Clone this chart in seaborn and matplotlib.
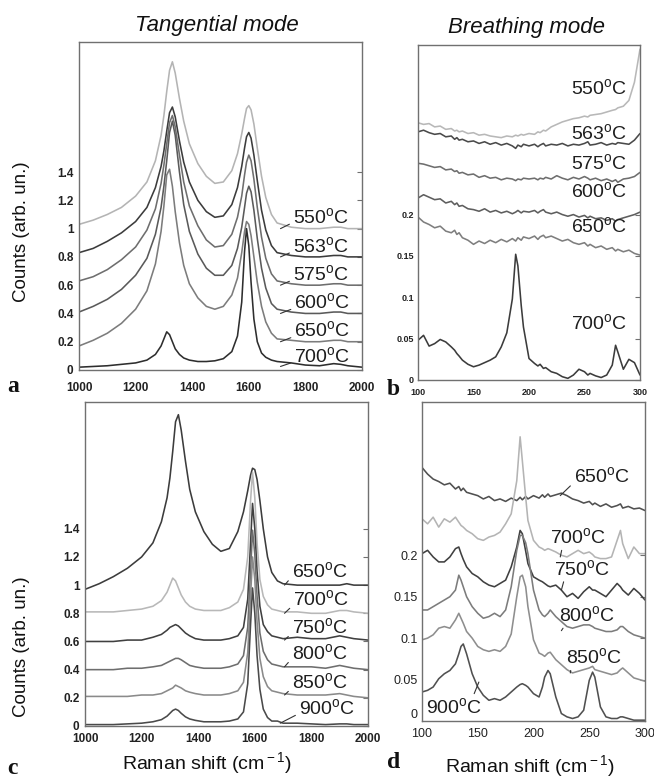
import matplotlib
matplotlib.use("Agg")
import matplotlib.pyplot as plt
import seaborn as sns
import pandas as pd

# ---------------- data ----------------
X_TANG = [1000, 1050, 1100, 1150, 1200, 1240, 1270, 1290, 1300, 1310, 1320, 1330, 1340, 1355, 1370,
          1390, 1420, 1450, 1480, 1510, 1540, 1560, 1575, 1585, 1592, 1600, 1608, 1618, 1630, 1645,
          1660, 1680, 1700, 1750, 1800, 1850, 1900, 1925, 1950, 2000]

# panel a : tangential mode (curves displayed with vertical offset)
a_550 = [1.03, 1.06, 1.10, 1.15, 1.23, 1.33, 1.48, 1.66, 1.80, 1.97, 2.12, 2.18, 2.10, 1.92, 1.76,
         1.60, 1.46, 1.37, 1.32, 1.33, 1.41, 1.53, 1.67, 1.78, 1.85, 1.87, 1.84, 1.74, 1.57, 1.37,
         1.22, 1.10, 1.04, 1.01, 1.00, 1.00, 1.01, 1.01, 1.00, 1.00]
a_563 = [0.83, 0.86, 0.91, 0.97, 1.05, 1.15, 1.29, 1.44, 1.55, 1.69, 1.82, 1.86, 1.79, 1.62, 1.47,
         1.33, 1.20, 1.12, 1.08, 1.09, 1.17, 1.29, 1.44, 1.57, 1.65, 1.68, 1.64, 1.52, 1.34, 1.13,
         0.99, 0.88, 0.83, 0.81, 0.80, 0.80, 0.81, 0.81, 0.80, 0.80]
a_575 = [0.63, 0.66, 0.71, 0.78, 0.87, 0.99, 1.14, 1.32, 1.45, 1.60, 1.75, 1.80, 1.72, 1.52, 1.33,
         1.16, 1.02, 0.92, 0.87, 0.88, 0.96, 1.08, 1.23, 1.38, 1.47, 1.52, 1.48, 1.35, 1.15, 0.94,
         0.79, 0.68, 0.63, 0.61, 0.60, 0.60, 0.61, 0.61, 0.60, 0.60]
a_600 = [0.41, 0.45, 0.50, 0.57, 0.67, 0.79, 0.96, 1.15, 1.30, 1.48, 1.68, 1.76, 1.66, 1.40, 1.17,
         0.98, 0.82, 0.72, 0.67, 0.67, 0.74, 0.86, 1.01, 1.15, 1.25, 1.30, 1.26, 1.13, 0.93, 0.72,
         0.58, 0.47, 0.43, 0.41, 0.40, 0.40, 0.41, 0.41, 0.40, 0.40]
a_650 = [0.17, 0.21, 0.26, 0.33, 0.43, 0.56, 0.75, 0.98, 1.16, 1.38, 1.42, 1.30, 1.12, 0.90, 0.74,
         0.61, 0.51, 0.45, 0.43, 0.45, 0.53, 0.65, 0.83, 0.98, 1.05, 1.03, 0.95, 0.80, 0.62, 0.45,
         0.34, 0.26, 0.22, 0.21, 0.20, 0.20, 0.21, 0.21, 0.20, 0.20]
a_700 = [0.02, 0.025, 0.03, 0.04, 0.05, 0.07, 0.11, 0.17, 0.22, 0.27, 0.25, 0.20, 0.15, 0.11, 0.085,
         0.07, 0.06, 0.06, 0.065, 0.08, 0.13, 0.24, 0.48, 0.84, 1.00, 0.88, 0.62, 0.36, 0.20, 0.12,
         0.09, 0.07, 0.06, 0.05, 0.035, 0.03, 0.045, 0.04, 0.03, 0.02]

# panel c : tangential mode, higher temperatures
c_650 = [0.97, 1.01, 1.06, 1.12, 1.20, 1.30, 1.45, 1.62, 1.76, 1.95, 2.16, 2.21, 2.10, 1.88, 1.68,
         1.52, 1.38, 1.29, 1.24, 1.26, 1.38, 1.52, 1.67, 1.78, 1.83, 1.82, 1.75, 1.60, 1.40, 1.20,
         1.09, 1.03, 1.01, 1.00, 1.00, 1.00, 1.00, 1.01, 1.00, 1.00]
c_700 = [0.81, 0.81, 0.81, 0.82, 0.83, 0.85, 0.89, 0.95, 1.00, 1.05, 1.03, 0.98, 0.93, 0.88, 0.85,
         0.83, 0.82, 0.82, 0.82, 0.84, 0.88, 0.97, 1.20, 1.60, 1.80, 1.62, 1.30, 1.04, 0.92, 0.86,
         0.83, 0.82, 0.81, 0.81, 0.80, 0.80, 0.82, 0.82, 0.81, 0.80]
c_750 = [0.60, 0.60, 0.60, 0.61, 0.61, 0.63, 0.65, 0.68, 0.70, 0.71, 0.72, 0.71, 0.69, 0.66, 0.64,
         0.62, 0.61, 0.61, 0.61, 0.62, 0.64, 0.70, 0.90, 1.30, 1.58, 1.40, 1.10, 0.85, 0.72, 0.67,
         0.64, 0.63, 0.62, 0.63, 0.62, 0.62, 0.64, 0.63, 0.62, 0.61]
c_800 = [0.40, 0.40, 0.40, 0.41, 0.41, 0.42, 0.43, 0.45, 0.46, 0.47, 0.48, 0.48, 0.47, 0.45, 0.43,
         0.42, 0.41, 0.41, 0.41, 0.42, 0.44, 0.50, 0.70, 1.10, 1.39, 1.22, 0.92, 0.66, 0.53, 0.47,
         0.44, 0.43, 0.42, 0.42, 0.42, 0.41, 0.43, 0.42, 0.41, 0.40]
c_850 = [0.21, 0.21, 0.21, 0.21, 0.22, 0.22, 0.23, 0.25, 0.26, 0.27, 0.29, 0.28, 0.27, 0.25, 0.24,
         0.23, 0.22, 0.22, 0.22, 0.23, 0.25, 0.31, 0.52, 0.92, 1.20, 1.04, 0.74, 0.48, 0.35, 0.28,
         0.25, 0.24, 0.23, 0.22, 0.22, 0.22, 0.23, 0.22, 0.21, 0.20]
c_900 = [0.01, 0.01, 0.01, 0.015, 0.02, 0.03, 0.045, 0.07, 0.09, 0.11, 0.12, 0.11, 0.09, 0.065, 0.05,
         0.04, 0.03, 0.03, 0.03, 0.035, 0.05, 0.10, 0.30, 0.72, 0.98, 0.80, 0.50, 0.26, 0.12, 0.06,
         0.035, 0.035, 0.02, 0.02, 0.015, 0.01, 0.015, 0.015, 0.01, 0.01]

X_BREATH = [100, 105, 110, 115, 120, 125, 130, 133, 135, 137, 140, 145, 150, 155, 160, 165, 170,
            175, 180, 185, 188, 190, 193, 195, 200, 205, 208, 210, 213, 215, 220, 225, 230, 235,
            240, 245, 250, 253, 255, 260, 265, 270, 275, 278, 280, 285, 290, 295, 300]

# panel b : breathing mode
b_550 = [0.311, 0.309, 0.310, 0.306, 0.307, 0.303, 0.304, 0.301, 0.302, 0.300, 0.301, 0.298, 0.299,
         0.296, 0.297, 0.295, 0.294, 0.293, 0.295, 0.294, 0.296, 0.295, 0.297, 0.296, 0.298, 0.297,
         0.300, 0.299, 0.302, 0.301, 0.306, 0.309, 0.312, 0.314, 0.316, 0.317, 0.319, 0.318, 0.320,
         0.321, 0.322, 0.324, 0.326, 0.327, 0.329, 0.331, 0.338, 0.360, 0.400]
b_563 = [0.300, 0.302, 0.299, 0.297, 0.298, 0.294, 0.295, 0.291, 0.293, 0.290, 0.291, 0.288, 0.289,
         0.286, 0.288, 0.285, 0.287, 0.284, 0.286, 0.283, 0.280, 0.284, 0.282, 0.285, 0.283, 0.285,
         0.282, 0.284, 0.286, 0.283, 0.285, 0.284, 0.286, 0.283, 0.285, 0.284, 0.286, 0.288, 0.284,
         0.285, 0.287, 0.284, 0.286, 0.285, 0.287, 0.286, 0.285, 0.290, 0.298]
b_575 = [0.262, 0.261, 0.259, 0.257, 0.258, 0.254, 0.255, 0.252, 0.253, 0.250, 0.251, 0.248, 0.249,
         0.245, 0.247, 0.244, 0.245, 0.242, 0.244, 0.243, 0.241, 0.243, 0.242, 0.244, 0.243, 0.244,
         0.242, 0.244, 0.243, 0.245, 0.243, 0.247, 0.244, 0.242, 0.245, 0.243, 0.246, 0.244, 0.242,
         0.244, 0.241, 0.243, 0.240, 0.242, 0.239, 0.243, 0.244, 0.246, 0.251]
b_600 = [0.220, 0.224, 0.221, 0.218, 0.219, 0.214, 0.216, 0.212, 0.214, 0.210, 0.211, 0.207, 0.206,
         0.204, 0.207, 0.203, 0.205, 0.202, 0.204, 0.201, 0.203, 0.205, 0.202, 0.204, 0.203, 0.205,
         0.202, 0.204, 0.206, 0.203, 0.201, 0.203, 0.200, 0.198, 0.200, 0.197, 0.199, 0.196, 0.198,
         0.195, 0.196, 0.193, 0.195, 0.192, 0.194, 0.196, 0.198, 0.200, 0.203]
b_650 = [0.197, 0.191, 0.188, 0.184, 0.186, 0.180, 0.178, 0.181, 0.176, 0.178, 0.172, 0.169, 0.164,
         0.168, 0.165, 0.169, 0.166, 0.170, 0.167, 0.171, 0.168, 0.172, 0.169, 0.173, 0.171, 0.174,
         0.170, 0.173, 0.175, 0.172, 0.174, 0.171, 0.168, 0.170, 0.166, 0.164, 0.166, 0.162, 0.164,
         0.160, 0.162, 0.158, 0.160, 0.156, 0.158, 0.155, 0.157, 0.153, 0.151]
b_700 = [0.048, 0.054, 0.041, 0.044, 0.049, 0.046, 0.040, 0.036, 0.032, 0.029, 0.024, 0.019, 0.016,
         0.018, 0.021, 0.024, 0.028, 0.040, 0.057, 0.098, 0.152, 0.138, 0.090, 0.064, 0.026, 0.020,
         0.017, 0.019, 0.014, 0.015, 0.010, 0.008, 0.004, 0.002, 0.006, 0.013, 0.010, 0.006, 0.008,
         0.005, 0.003, 0.006, 0.018, 0.042, 0.034, 0.013, 0.025, 0.021, 0.006]

# panel d : breathing mode, higher temperatures
d_650 = [0.306, 0.298, 0.292, 0.289, 0.285, 0.287, 0.280, 0.283, 0.278, 0.281, 0.276, 0.274, 0.272,
         0.268, 0.271, 0.266, 0.268, 0.265, 0.269, 0.266, 0.270, 0.267, 0.271, 0.268, 0.272, 0.269,
         0.273, 0.270, 0.274, 0.271, 0.273, 0.275, 0.272, 0.268, 0.266, 0.263, 0.265, 0.261, 0.263,
         0.259, 0.262, 0.258, 0.260, 0.262, 0.257, 0.259, 0.256, 0.257, 0.254]
d_700 = [0.244, 0.238, 0.246, 0.234, 0.244, 0.240, 0.246, 0.240, 0.236, 0.234, 0.230, 0.226, 0.220,
         0.218, 0.222, 0.224, 0.228, 0.238, 0.250, 0.290, 0.343, 0.314, 0.270, 0.242, 0.218, 0.210,
         0.208, 0.206, 0.208, 0.207, 0.204, 0.200, 0.198, 0.202, 0.206, 0.202, 0.204, 0.201, 0.198,
         0.196, 0.196, 0.198, 0.218, 0.230, 0.214, 0.196, 0.210, 0.202, 0.202]
d_750 = [0.202, 0.206, 0.198, 0.192, 0.192, 0.198, 0.208, 0.210, 0.202, 0.195, 0.186, 0.178, 0.174,
         0.168, 0.164, 0.162, 0.166, 0.170, 0.186, 0.210, 0.230, 0.226, 0.205, 0.190, 0.174, 0.170,
         0.168, 0.166, 0.163, 0.162, 0.164, 0.158, 0.150, 0.154, 0.148, 0.156, 0.162, 0.158, 0.158,
         0.154, 0.150, 0.158, 0.166, 0.162, 0.158, 0.152, 0.160, 0.154, 0.146]
d_800 = [0.134, 0.134, 0.138, 0.142, 0.146, 0.150, 0.158, 0.176, 0.170, 0.162, 0.150, 0.138, 0.130,
         0.124, 0.126, 0.130, 0.126, 0.134, 0.162, 0.206, 0.224, 0.224, 0.215, 0.202, 0.158, 0.134,
         0.128, 0.126, 0.130, 0.134, 0.126, 0.120, 0.114, 0.112, 0.114, 0.116, 0.116, 0.114, 0.112,
         0.110, 0.108, 0.108, 0.110, 0.114, 0.114, 0.108, 0.104, 0.102, 0.100]
d_850 = [0.098, 0.100, 0.104, 0.112, 0.114, 0.112, 0.122, 0.130, 0.124, 0.118, 0.108, 0.100, 0.090,
         0.086, 0.084, 0.086, 0.084, 0.090, 0.105, 0.150, 0.174, 0.176, 0.162, 0.138, 0.098, 0.082,
         0.080, 0.078, 0.082, 0.083, 0.074, 0.068, 0.062, 0.058, 0.060, 0.062, 0.064, 0.066, 0.062,
         0.060, 0.058, 0.056, 0.058, 0.062, 0.064, 0.058, 0.052, 0.050, 0.048]
d_900 = [0.035, 0.037, 0.041, 0.051, 0.057, 0.061, 0.069, 0.081, 0.090, 0.093, 0.081, 0.057, 0.041,
         0.031, 0.025, 0.027, 0.025, 0.029, 0.035, 0.041, 0.044, 0.045, 0.043, 0.041, 0.033, 0.029,
         0.041, 0.053, 0.061, 0.057, 0.029, 0.009, 0.005, 0.003, 0.005, 0.013, 0.049, 0.059, 0.053,
         0.017, 0.005, 0.003, 0.003, 0.005, 0.005, 0.003, 0.001, 0.001, 0.001]

TEMPS_TOP = ["550", "563", "575", "600", "650", "700"]
TEMPS_BOT = ["650", "700", "750", "800", "850", "900"]

TANG_TICKS = [1000, 1200, 1400, 1600, 1800, 2000]
TANG_YTICKS = [0, 0.2, 0.4, 0.6, 0.8, 1.0, 1.2, 1.4]
TANG_YLABELS = ["0", "0.2", "0.4", "0.6", "0.8", "1", "1.2", "1.4"]
BR_TICKS = [100, 150, 200, 250, 300]
BR_YTICKS = [0, 0.05, 0.1, 0.15, 0.2]
BR_YLABELS = ["0", "0.05", "0.1", "0.15", "0.2"]

# ---------------- style ----------------
sns.set_style("white")
plt.rcParams["font.family"] = ["Liberation Sans", "DejaVu Sans"]
plt.rcParams["mathtext.fontset"] = "custom"
plt.rcParams["mathtext.rm"] = "Liberation Sans"
plt.rcParams["mathtext.it"] = "Liberation Sans:italic"

W, H = 654, 778
fig = plt.figure(figsize=(W / 100, H / 100), dpi=100)


def box(l, t, r, b):
    return [l / W, 1 - b / H, (r - l) / W, (b - t) / H]


ax_a = fig.add_axes(box(79, 42, 362, 370))
ax_b = fig.add_axes(box(418, 45, 640, 380))
ax_c = fig.add_axes(box(85, 402, 368, 726))
ax_d = fig.add_axes(box(422, 402, 645, 721))

SPINE = "#707070"


def deg(t):
    return t + r"$^{\rm o}$C"


def draw(ax, x, curves, colors):
    rows = []
    for name, ys in curves.items():
        for xv, yv in zip(x, ys):
            rows.append({"x": xv, "y": yv, "T": name})
    df = pd.DataFrame(rows)
    sns.lineplot(data=df, x="x", y="y", hue="T", palette=colors, estimator=None,
                 sort=False, linewidth=1.15, legend=False, ax=ax)
    ax.set_xlabel("")
    ax.set_ylabel("")
    for s in ax.spines.values():
        s.set_color(SPINE)
        s.set_linewidth(1.0)
        s.set_visible(True)


# panel a
draw(ax_a, X_TANG,
     dict(zip(TEMPS_TOP, [a_550, a_563, a_575, a_600, a_650, a_700])),
     dict(zip(TEMPS_TOP, ["#b4b4b4", "#3c3c3c", "#6e6e6e", "#5a5a5a", "#7c7c7c", "#2e2e2e"])))
ax_a.set_xlim(1000, 2000)
ax_a.set_ylim(0, 2.32)
# panel b
draw(ax_b, X_BREATH,
     dict(zip(TEMPS_TOP, [b_550, b_563, b_575, b_600, b_650, b_700])),
     dict(zip(TEMPS_TOP, ["#b8b8b8", "#4a4a4a", "#6e6e6e", "#5e5e5e", "#7e7e7e", "#3c3c3c"])))
ax_b.set_xlim(100, 300)
ax_b.set_ylim(0, 0.405)
# panel c
draw(ax_c, X_TANG,
     dict(zip(TEMPS_BOT, [c_650, c_700, c_750, c_800, c_850, c_900])),
     dict(zip(TEMPS_BOT, ["#3c3c3c", "#b8b8b8", "#404040", "#6e6e6e", "#8a8a8a", "#4a4a4a"])))
ax_c.set_xlim(1000, 2000)
ax_c.set_ylim(0, 2.30)
# panel d
draw(ax_d, X_BREATH,
     dict(zip(TEMPS_BOT, [d_650, d_700, d_750, d_800, d_850, d_900])),
     dict(zip(TEMPS_BOT, ["#505050", "#b4b4b4", "#404040", "#7c7c7c", "#8e8e8e", "#505050"])))
ax_d.set_xlim(100, 300)
ax_d.set_ylim(0, 0.385)

for ax in (ax_a, ax_c):
    ax.set_xticks(TANG_TICKS)
    ax.set_yticks(TANG_YTICKS)
    ax.set_yticklabels(TANG_YLABELS)
for ax in (ax_b, ax_d):
    ax.set_xticks(BR_TICKS)
    ax.set_yticks(BR_YTICKS)
    ax.set_yticklabels(BR_YLABELS)

ax_a.tick_params(axis="both", which="both", direction="in", length=3.5, width=0.8, color=SPINE,
                 right=True, labelsize=8.5, pad=4)
ax_a.tick_params(axis="x", pad=9)
ax_c.tick_params(axis="both", which="both", direction="in", length=3.5, width=0.8, color=SPINE,
                 right=True, labelsize=8.5, pad=4)
ax_c.tick_params(axis="x", pad=5)
ax_b.tick_params(axis="both", which="both", direction="in", length=3.5, width=0.8, color=SPINE,
                 right=True, labelsize=6.5, pad=3)
ax_b.tick_params(axis="x", pad=6)
ax_d.tick_params(axis="both", which="both", direction="in", length=3.5, width=0.8, color=SPINE,
                 right=True, labelsize=9, pad=3)
ax_d.tick_params(axis="x", pad=5)
for ax in (ax_a, ax_b, ax_c):
    for lab in ax.get_xticklabels() + ax.get_yticklabels():
        lab.set_fontweight("bold")
        lab.set_color("#222222")
for lab in ax_d.get_xticklabels() + ax_d.get_yticklabels():
    lab.set_color("#222222")
ax_d.get_yticklabels()[0].set_verticalalignment("bottom")

LBL = 14
TXT = "#1e1e1e"
LEAD = dict(arrowstyle="-", color="#333333", lw=0.8, shrinkA=0, shrinkB=0)

# labels panel a : (text x, text y, leader end x, leader end y)
a_lab_pos = [(1755, 1.085, 1712, 1.0), (1755, 0.88, 1712, 0.80), (1755, 0.68, 1712, 0.60),
             (1760, 0.48, 1712, 0.40), (1760, 0.28, 1712, 0.20), (1760, 0.10, 1712, 0.025)]
for t, (tx, ty, lx, ly) in zip(TEMPS_TOP, a_lab_pos):
    ax_a.annotate(deg(t), xy=(lx, ly), xytext=(tx, ty), fontsize=LBL, color=TXT,
                  ha="left", va="center", arrowprops=dict(LEAD, relpos=(0, 0.2)))

c_lab_pos = [(1730, 1.10, 1705, 1.0), (1735, 0.90, 1705, 0.80), (1730, 0.70, 1705, 0.61),
             (1730, 0.52, 1705, 0.42), (1730, 0.31, 1705, 0.22), (1755, 0.13, 1690, 0.02)]
for t, (tx, ty, lx, ly) in zip(TEMPS_BOT, c_lab_pos):
    ax_c.annotate(deg(t), xy=(lx, ly), xytext=(tx, ty), fontsize=LBL, color=TXT,
                  ha="left", va="center", arrowprops=dict(LEAD, relpos=(0, 0.2)))

b_lab_pos = [(288, 0.353), (288, 0.299), (288, 0.262), (288, 0.228), (288, 0.186), (288, 0.069)]
for t, (tx, ty) in zip(TEMPS_TOP, b_lab_pos):
    ax_b.text(tx, ty, deg(t), fontsize=LBL, color=TXT, ha="right", va="center")

# panel d : (text x, text y, leader x, leader y, relpos)
d_lab_pos = [(236, 0.296, 224, 0.272, (0, 0.15)), (215, 0.222, 224, 0.198, (0.22, 0.05)),
             (218, 0.184, 225, 0.158, (0.2, 0.05)), (223, 0.128, 225, 0.109, (0.12, 0.05)),
             (229, 0.077, 233, 0.058, (0.1, 0.05)), (104, 0.017, 151, 0.047, (0.82, 0.95))]
for t, (tx, ty, lx, ly, rp) in zip(TEMPS_BOT, d_lab_pos):
    ax_d.annotate(deg(t), xy=(lx, ly), xytext=(tx, ty), fontsize=LBL, color=TXT,
                  ha="left", va="center", arrowprops=dict(LEAD, relpos=rp))

# titles and axis labels
fig.text(217 / W, 1 - 25 / H, "Tangential mode", fontsize=16, style="italic", ha="center", va="center", color="#111111")
fig.text(527 / W, 1 - 27 / H, "Breathing mode", fontsize=16, style="italic", ha="center", va="center", color="#111111")
fig.text(22 / W, 1 - 232 / H, "Counts (arb. un.)", fontsize=13.5, rotation=90, ha="center", va="center", color="#111111")
fig.text(22 / W, 1 - 647 / H, "Counts (arb. un.)", fontsize=13.5, rotation=90, ha="center", va="center", color="#111111")
fig.text(207 / W, 1 - 763 / H, "Raman shift (cm$^{\\rm -1}$)", fontsize=14, ha="center", va="center", color="#111111")
fig.text(530 / W, 1 - 766 / H, "Raman shift (cm$^{\\rm -1}$)", fontsize=14, ha="center", va="center", color="#111111")

for s, (px, py) in zip("abcd", [(13, 387), (393, 390), (12, 768), (394, 763)]):
    fig.text(px / W, 1 - py / H, s, fontsize=17, fontweight="bold", family="Liberation Serif",
             ha="center", va="center", color="#111111")

fig.savefig("out.png", dpi=100, facecolor="white")
